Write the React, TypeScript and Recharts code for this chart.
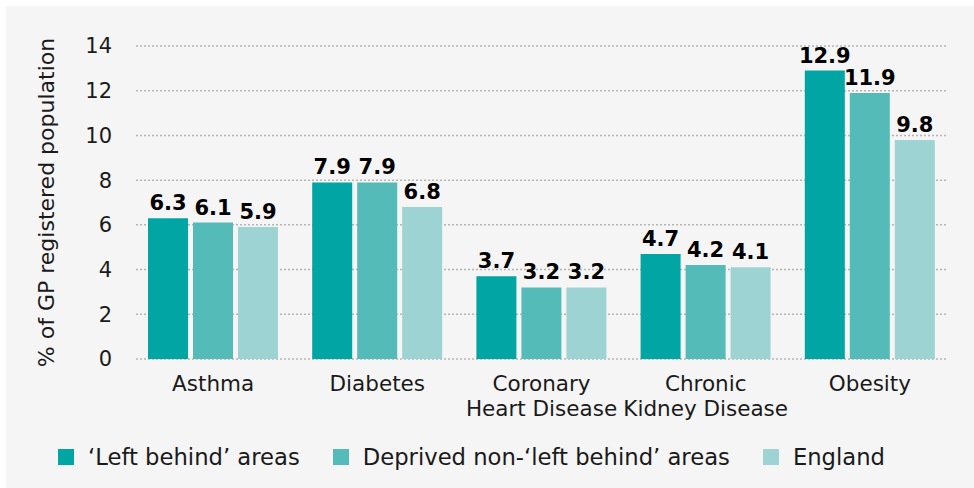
import React from 'react';
import { BarChart, Bar, XAxis, YAxis, CartesianGrid, Legend, LabelList } from 'recharts';

const categories = ['Asthma', 'Diabetes', 'Coronary\nHeart Disease', 'Chronic\nKidney Disease', 'Obesity'];
const leftBehind = [6.3, 7.9, 3.7, 4.7, 12.9];
const deprived = [6.1, 7.9, 3.2, 4.2, 11.9];
const england = [5.9, 6.8, 3.2, 4.1, 9.8];
const yTicks = [0, 2, 4, 6, 8, 10, 12, 14];
const seriesNames = ['\u2018Left behind\u2019 areas', 'Deprived non-\u2018left behind\u2019 areas', 'England'];
const seriesKeys = ['leftBehind', 'deprived', 'england'];
const seriesColors = ['#00a5a4', '#55bbb9', '#9ed3d3'];

const data = categories.map((c, i) => ({
  category: c,
  leftBehind: leftBehind[i],
  deprived: deprived[i],
  england: england[i],
}));

const FONT = '"DejaVu Sans", sans-serif';

const CategoryTick = (props: any) => {
  const { x, y, payload } = props;
  const lines = String(payload.value).split('\n');
  return (
    <text x={x} y={y} textAnchor="middle" fill="#1a1a1a" fontSize={21.5} fontFamily={FONT}>
      {lines.map((l, i) => (
        <tspan key={i} x={x} dy={i === 0 ? 32 : 25}>{l}</tspan>
      ))}
    </text>
  );
};

const LegendContent = () => (
  <div style={{ display: 'flex', alignItems: 'center', fontFamily: FONT, fontSize: 22.7, color: '#1a1a1a', whiteSpace: 'nowrap' }}>
    {seriesNames.map((n, i) => (
      <div key={i} style={{ display: 'flex', alignItems: 'center', marginRight: 33 }}>
        <div style={{ width: 16, height: 16, background: seriesColors[i], marginRight: 14 }} />
        <span>{n}</span>
      </div>
    ))}
  </div>
);

const YLabel = (props: any) => {
  const { viewBox } = props;
  const cx = viewBox.x + 40;
  const cy = viewBox.y + viewBox.height / 2;
  return (
    <text x={cx} y={cy} transform={`rotate(-90, ${cx}, ${cy})`} textAnchor="middle" dominantBaseline="central" fill="#1a1a1a" fontSize={22} fontFamily={FONT}>
      % of GP registered population
    </text>
  );
};

export default function App() {
  return (
    <div style={{ position: 'absolute', left: 0, top: 0, width: 974, height: 488, background: '#ffffff' }}>
      <div style={{ position: 'absolute', left: 6, top: 6, width: 968, height: 482, background: '#f5f5f5' }}>
        <BarChart
          width={968}
          height={482}
          data={data}
          margin={{ top: 40, right: 27, left: 0, bottom: 69 }}
          barGap={5}
          barSize={40}
        >
          <CartesianGrid vertical={false} stroke="#b5b5b5" strokeDasharray="2 2" strokeWidth={1.5} />
          <XAxis
            dataKey="category"
            axisLine={false}
            tickLine={false}
            tickSize={0}
            tickMargin={0}
            height={60}
            interval={0}
            padding={{ left: -5, right: -5 }}
            tick={<CategoryTick />}
          />
          <YAxis
            width={130}
            domain={[0, 14]}
            ticks={yTicks}
            axisLine={false}
            tickLine={false}
            tickSize={0}
            tickMargin={24}
            tick={{ fill: '#1a1a1a', fontSize: 21, fontFamily: FONT }}
            label={<YLabel />}
          />
          <Legend
            layout="horizontal"
            verticalAlign="middle"
            align="center"
            content={<LegendContent />}
            wrapperStyle={{ top: 438, left: 52, width: 'auto', height: 24 }}
          />
          {seriesKeys.map((k, i) => (
            <Bar key={k} dataKey={k} name={seriesNames[i]} fill={seriesColors[i]} isAnimationActive={false}>
              <LabelList dataKey={k} position="top" offset={8} fill="#000" fontSize={21} fontWeight="bold" fontFamily={FONT} />
            </Bar>
          ))}
        </BarChart>
      </div>
    </div>
  );
}
